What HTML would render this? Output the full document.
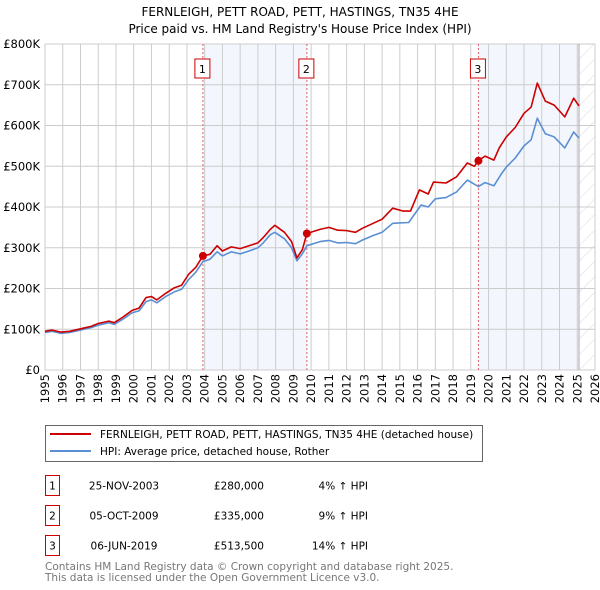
<!DOCTYPE html>
<html><head><meta charset="utf-8">
<style>
body{margin:0;background:#fff;font-family:"DejaVu Sans","Liberation Sans",sans-serif;}
#wrap{position:relative;width:600px;height:590px;overflow:hidden;}
svg text{font-family:"DejaVu Sans","Liberation Sans",sans-serif;}
</style></head>
<body>
<div id="wrap">
<svg id="chart" width="600" height="590"></svg>
</div>
<script>
const hpiYears=[1995,1995.4,1995.9,1996.4,1997,1997.6,1998,1998.6,1998.9,1999.4,1999.9,2000.3,2000.7,2001,2001.3,2001.8,2002.3,2002.7,2003.1,2003.5,2003.9,2004.3,2004.7,2005,2005.5,2006,2006.5,2007,2007.3,2007.7,2007.95,2008.5,2008.9,2009.2,2009.5,2009.76,2010.5,2011,2011.5,2012,2012.5,2012.9,2013.5,2014,2014.6,2015.5,2016.2,2016.6,2017,2017.6,2018.2,2018.8,2019.43,2019.8,2020.3,2020.7,2021,2021.5,2022,2022.4,2022.75,2023.2,2023.7,2024.3,2024.8,2025.1];
const hpiValues=[92,95,90,92,98,104,110,116,112,125,140,145,168,172,165,180,192,198,222,240,266,272,290,280,290,285,292,300,312,332,338,322,300,268,285,305,315,318,312,313,310,319,330,338,360,362,405,400,420,423,437,466,450,460,452,480,498,520,550,565,618,580,572,545,584,569];
const priceYears=[1995,1995.4,1995.9,1996.4,1997,1997.6,1998,1998.6,1998.9,1999.4,1999.9,2000.3,2000.7,2001,2001.3,2001.8,2002.3,2002.7,2003.1,2003.5,2003.9,2004.3,2004.7,2005,2005.5,2006,2006.5,2007,2007.3,2007.7,2007.95,2008.5,2008.9,2009.2,2009.5,2009.76,2010.5,2011,2011.5,2012,2012.5,2012.9,2013.5,2014,2014.6,2015.2,2015.6,2016.1,2016.6,2016.9,2017.6,2018.2,2018.8,2019.2,2019.43,2019.8,2020.3,2020.6,2021,2021.5,2022,2022.4,2022.75,2023.2,2023.7,2024.3,2024.8,2025.1];
const priceValues=[95,98,93,95,101,107,114,120,116,130,146,152,178,180,172,188,202,208,235,252,280,284,305,292,302,298,305,312,325,345,355,338,315,275,295,335,345,350,343,342,338,348,360,370,397,390,390,442,432,461,459,474,508,500,513.5,525,515,545,572,595,630,645,704,660,650,621,667,648];
const saleYears=[2003.9,2009.76,2019.43];
const saleValues=[280,335,513.5];
const saleLabels=["1","2","3"];
const yTicks=[0,100,200,300,400,500,600,700,800];
const yTickLabels=["£0","£100K","£200K","£300K","£400K","£500K","£600K","£700K","£800K"];
const xTicks=[1995,1996,1997,1998,1999,2000,2001,2002,2003,2004,2005,2006,2007,2008,2009,2010,2011,2012,2013,2014,2015,2016,2017,2018,2019,2020,2021,2022,2023,2024,2025,2026];
const dataEnd=2025.1;

const NS="http://www.w3.org/2000/svg";
const svg=document.getElementById('chart');
const L=45,R=595,T=44,B=370;
const X=y=>L+(y-1995)*(R-L)/31;
const Y=v=>B-v*(B-T)/800;
function mk(tag,attrs,parent){const e=document.createElementNS(NS,tag);for(const k in attrs)e.setAttribute(k,attrs[k]);(parent||svg).appendChild(e);return e;}

const defs=mk('defs',{});
const pat=mk('pattern',{id:'hatch',width:11,height:11,patternUnits:'userSpaceOnUse',patternTransform:'rotate(45)'},defs);
mk('line',{x1:0,y1:0,x2:0,y2:11,stroke:'#cfcfcf','stroke-width':0.8},pat);

let t=mk('text',{x:300,y:16,'text-anchor':'middle','font-size':12,fill:'#000'});t.textContent="FERNLEIGH, PETT ROAD, PETT, HASTINGS, TN35 4HE";

t=mk('text',{x:300,y:33,'text-anchor':'middle','font-size':12,fill:'#000'});t.textContent="Price paid vs. HM Land Registry's House Price Index (HPI)";


let s=mk('rect',{x:X(saleYears[0]),y:T,width:X(saleYears[1])-X(saleYears[0]),height:B-T,fill:'#eef3fc',opacity:0.7});

s=mk('rect',{x:X(saleYears[2]),y:T,width:X(dataEnd)-X(saleYears[2]),height:B-T,fill:'#eef3fc',opacity:0.7});

s=mk('rect',{x:X(dataEnd),y:T,width:R-X(dataEnd),height:B-T,fill:'url(#hatch)'});


xTicks.forEach(yr=>{
  const g=mk('line',{x1:X(yr),x2:X(yr),y1:T,y2:B,stroke:'#ccc','stroke-width':1});
  
  const tx=mk('text',{x:0,y:0,'font-size':11.5,fill:'#000','text-anchor':'end',transform:`translate(${X(yr)+4},${B+4}) rotate(-90)`});
  tx.textContent=yr;
  
});
yTicks.forEach((v,i)=>{
  const g=mk('line',{x1:L,x2:R,y1:Y(v),y2:Y(v),stroke:'#ccc','stroke-width':1});
  
  const tx=mk('text',{x:40,y:Y(v)+4,'font-size':11.5,fill:'#000','text-anchor':'end'});
  tx.textContent=yTickLabels[i];
  
});
let el=mk('line',{x1:X(dataEnd),x2:X(dataEnd),y1:T,y2:B,stroke:'#aaa','stroke-width':1});


saleYears.forEach((yr,i)=>{
  const l=mk('line',{x1:X(yr),x2:X(yr),y1:T,y2:B,stroke:'#e06070','stroke-width':1,'stroke-dasharray':'2,2'});
  
  const bx=mk('rect',{x:X(yr)-8,y:59,width:15,height:19,fill:'#fff',stroke:'#cc0000','stroke-width':1});
  
  const tx=mk('text',{x:X(yr)-0.5,y:73,'text-anchor':'middle','font-size':11,fill:'#000'});tx.textContent=saleLabels[i];
  
});

function path(xs,vs,color,name){
  const d=xs.map((x,i)=>(i?'L':'M')+X(x).toFixed(1)+','+Y(vs[i]).toFixed(1)).join('');
  const p=mk('path',{d:d,fill:'none',stroke:color,'stroke-width':1.6,'stroke-linejoin':'round'});
  
}
path(hpiYears,hpiValues,'#5b8fd4','hpi-line');
path(priceYears,priceValues,'#cc0000','price-paid-line');
saleYears.forEach((yr,i)=>{
  const c=mk('circle',{cx:X(yr),cy:Y(saleValues[i]),r:4,fill:'#cc0000'});
  
});

const lg=mk('g',{});
mk('rect',{x:45.5,y:425.5,width:437,height:36,fill:'#fff',stroke:'#666','stroke-width':1},lg);
mk('line',{x1:50,x2:91,y1:434,y2:434,stroke:'#cc0000','stroke-width':2},lg);
mk('line',{x1:50,x2:91,y1:451,y2:451,stroke:'#5b8fd4','stroke-width':2},lg);
t=mk('text',{x:100,y:438,'font-size':10.5,fill:'#000'},lg);t.textContent="FERNLEIGH, PETT ROAD, PETT, HASTINGS, TN35 4HE (detached house)";

t=mk('text',{x:100,y:455,'font-size':10.5,fill:'#000'},lg);t.textContent="HPI: Average price, detached house, Rother";


const rows=[["1","25-NOV-2003","£280,000","4% ↑ HPI"],["2","05-OCT-2009","£335,000","9% ↑ HPI"],["3","06-JUN-2019","£513,500","14% ↑ HPI"]];
rows.forEach((r,i)=>{
  const y0=475.5+i*30;
  const b=mk('rect',{x:45.5,y:y0,width:14,height:20,fill:'#fff',stroke:'#cc0000','stroke-width':1});
  
  let tt=mk('text',{x:52.5,y:y0+14,'text-anchor':'middle','font-size':10.5});tt.textContent=r[0];
  
  tt=mk('text',{x:124,y:y0+14,'text-anchor':'middle','font-size':10.5});tt.textContent=r[1];
  
  tt=mk('text',{x:264,y:y0+14,'text-anchor':'end','font-size':10.5});tt.textContent=r[2];
  
  tt=mk('text',{x:368,y:y0+14,'text-anchor':'end','font-size':10.5});tt.textContent=r[3];
  
});
t=mk('text',{x:45,y:570,'font-size':10.5,fill:'#777'});t.textContent="Contains HM Land Registry data © Crown copyright and database right 2025.";

t=mk('text',{x:45,y:581,'font-size':10.5,fill:'#777'});t.textContent="This data is licensed under the Open Government Licence v3.0.";

</script>
</body></html>
